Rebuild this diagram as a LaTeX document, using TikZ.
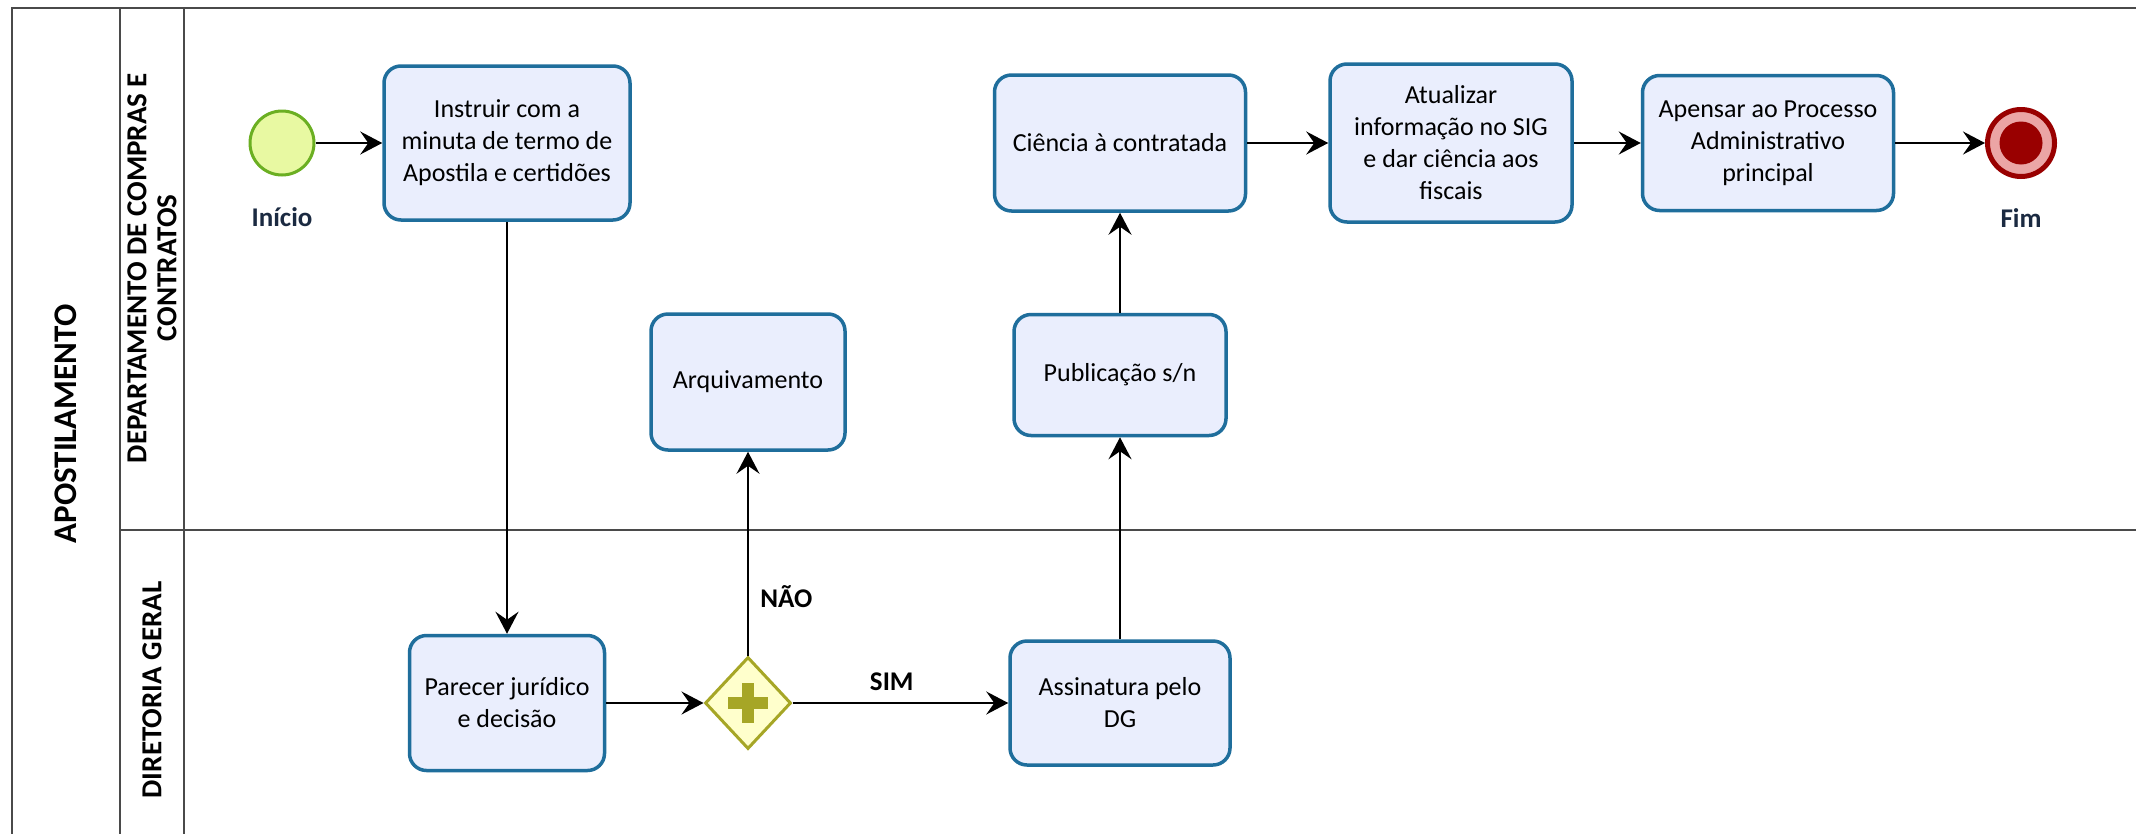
\documentclass[tikz,border=0pt]{standalone}
\usepackage{fontspec}
\setmainfont{Carlito}
\usetikzlibrary{shapes.geometric,arrows.meta}
\definecolor{taskfill}{HTML}{EAEEFD}
\definecolor{taskdraw}{HTML}{1F6E9C}
\definecolor{startfill}{HTML}{E8F9A2}
\definecolor{startdraw}{HTML}{6BAF22}
\definecolor{enddark}{HTML}{990000}
\definecolor{endpink}{HTML}{EBA5A5}
\definecolor{gwfill}{HTML}{FFFFCC}
\definecolor{gwdraw}{HTML}{A6A626}
\definecolor{poolline}{HTML}{4A4A4A}
\definecolor{evtext}{HTML}{1B2A41}
\begin{document}
\begin{tikzpicture}[x=1pt,y=-1pt,
  task/.style={draw=taskdraw, fill=taskfill, line width=3.5pt, rounded corners=17pt,
    align=center, inner sep=0pt, font={\fontsize{26}{32}\selectfont}},
  flow/.style={draw=black, line width=2pt, -{Stealth[length=22pt,width=23pt,inset=8pt]}},
  lanetext/.style={rotate=90, align=center, font={\fontsize{29}{30}\selectfont\bfseries}},
  evlabel/.style={text=evtext, font={\fontsize{27}{30}\selectfont\bfseries}},
  flowlabel/.style={text=black, font={\fontsize{27}{30}\selectfont\bfseries}},
  poolstroke/.style={draw=poolline, line width=2pt}
]
\useasboundingbox (0,0) rectangle (2136,833);
\clip (0,0) rectangle (2136,833);
\fill[white] (0,0) rectangle (2136,833);

% pool and lanes
\draw[poolstroke, line width=2.5pt] (2160,8) -- (12,8) -- (12,860);
\draw[poolstroke] (120,8) -- (120,860);
\draw[poolstroke] (184,8) -- (184,860);
\draw[poolstroke] (120,530) -- (2160,530);

\node[rotate=90, font={\fontsize{33}{36}\selectfont\bfseries}] (pool) at (66,424) {APOSTILAMENTO};
\node[lanetext] (lane1) at (152,268) {DEPARTAMENTO DE COMPRAS E\\CONTRATOS};
\node[lanetext] (lane2) at (152,690) {DIRETORIA GERAL};

% events
\node[circle, draw=startdraw, line width=3pt, fill=startfill, minimum size=64pt, inner sep=0pt] (start) at (282,143) {};
\node[evlabel] (lstart) at (282,217) {Início};
\node[circle, draw=enddark, line width=5pt, fill=endpink, minimum size=67pt, inner sep=0pt] (end) at (2021,143) {};
\fill[enddark] (end.center) circle (21.5pt);
\node[evlabel] (lend) at (2021,218) {Fim};

% tasks
\node[task, minimum width=246pt, minimum height=154pt] (t1) at (507,143) {Instruir com a\\minuta de termo de\\Apostila e certidões};
\node[task, minimum width=195pt, minimum height=135pt] (par) at (507,703) {Parecer jurídico\\e decisão};
\node[task, minimum width=194pt, minimum height=136pt] (arq) at (748,382) {Arquivamento};
\node[task, minimum width=220pt, minimum height=124pt] (ass) at (1120,703) {Assinatura pelo\\DG};
\node[task, minimum width=212pt, minimum height=121pt] (pub) at (1120,375) {Publicação s/n};
\node[task, minimum width=251pt, minimum height=136pt] (cie) at (1120,143) {Ciência à contratada};
\node[task, minimum width=242pt, minimum height=158pt] (atu) at (1451,143) {Atualizar\\informação no SIG\\e dar ciência aos\\fiscais};
\node[task, minimum width=251pt, minimum height=135pt] (ape) at (1768,143) {Apensar ao Processo\\Administrativo\\principal};

% gateway
\node[diamond, draw=gwdraw, line width=3pt, fill=gwfill, minimum width=86pt, minimum height=92pt, inner sep=0pt] (gw) at (748,703) {};
\fill[gwdraw] ([xshift=-20pt,yshift=-6pt]gw.center) rectangle ([xshift=20pt,yshift=6pt]gw.center);
\fill[gwdraw] ([xshift=-6pt,yshift=-20pt]gw.center) rectangle ([xshift=6pt,yshift=20pt]gw.center);

% flows
\draw[flow] (start) -- (t1);
\draw[flow] (t1) -- (par);
\draw[flow] (par) -- (gw);
\draw[flow] (gw) -- node[flowlabel, pos=0.29, anchor=west, xshift=8pt] (lnao) {NÃO} (arq);
\draw[flow] (gw) -- node[flowlabel, pos=0.46, yshift=21pt] (lsim) {SIM} (ass);
\draw[flow] (ass) -- (pub);
\draw[flow] (pub) -- (cie);
\draw[flow] (cie) -- (atu);
\draw[flow] (atu) -- (ape);
\draw[flow] (ape) -- (end);
\end{tikzpicture}
\end{document}
